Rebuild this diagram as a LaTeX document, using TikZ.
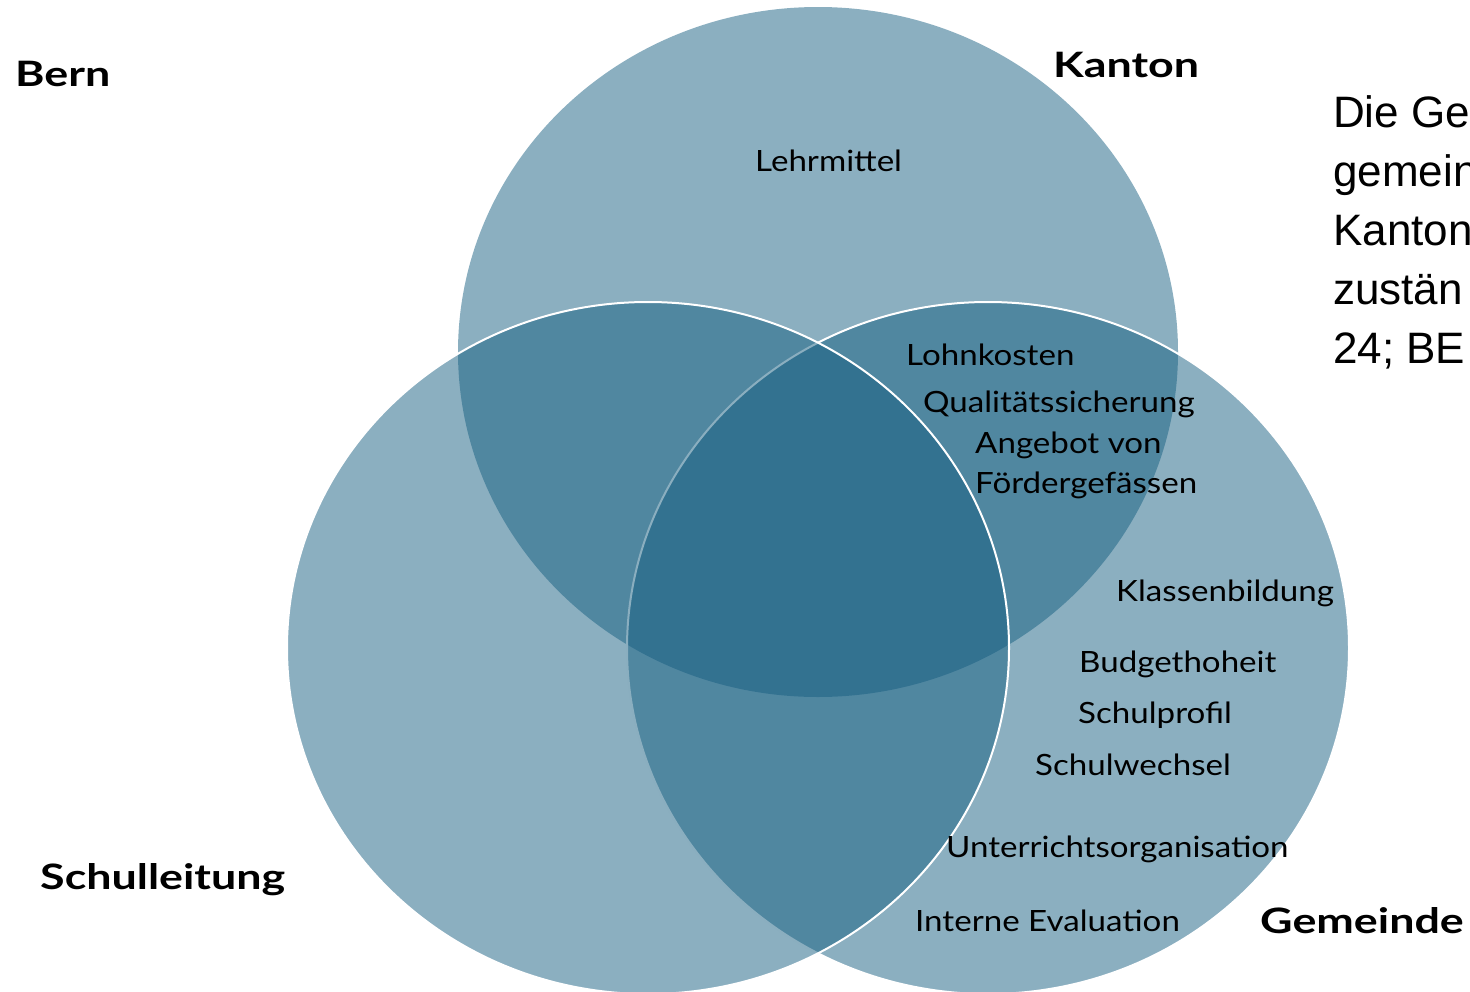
\documentclass[tikz,border=0pt]{standalone}
\usepackage{fontspec}
\setmainfont{Lato}
\newfontfamily\itemfont{Lato}[FakeStretch=1.13]
\newfontfamily\headfont{Lato}[FakeStretch=1.28]
\newfontfamily\notefont{Liberation Sans}
\definecolor{venn}{RGB}{23,95,129}

\begin{document}
\begin{tikzpicture}[x=1pt,y=-1pt,
  setarea/.style={fill=venn, fill opacity=0.5},
  setrim/.style={draw=white, line width=2pt},
  item/.style={anchor=base west, inner sep=0pt, text=black,
    font=\itemfont\fontsize{29.3}{29.3}\selectfont},
  head/.style={anchor=base west, inner sep=0pt, text=black,
    font=\headfont\bfseries\fontsize{35}{35}\selectfont},
  note/.style={anchor=base west, inner sep=0pt, text=black,
    font=\notefont\fontsize{44}{44}\selectfont}]

\useasboundingbox (0,0) rectangle (1470,991);
\clip (0,0) rectangle (1470,991);

% the three sets: Kanton below, then Gemeinde, then Schulleitung on top
\fill[setarea] (818,352) ellipse [x radius=360pt, y radius=345pt];
\path[setarea, setrim] (988,648) ellipse [x radius=361pt, y radius=346pt];
\path[setarea, setrim] (648,648) ellipse [x radius=361pt, y radius=346pt];

% set names
\node[head] (bern) at (15,86) {Bern};
\node[head] (kanton) at (1053,77) {Kanton};
\node[head] (schulleitung) at (40,889) {Schulleitung};
\node[head] (gemeinde) at (1260,933) {Gemeinde};

% responsibilities
\node[item] (lehrmittel) at (755,171) {Lehrmittel};
\node[item] (lohn) at (906,365) {Lohnkosten};
\node[item] (quali) at (923,412) {Qualitätssicherung};
\node[item] (angebot) at (975,453) {Angebot von};
\node[item] (foerder) at (975,493) {Fördergefässen};
\node[item] (klassen) at (1116,601) {Klassenbildung};
\node[item] (budget) at (1079,672) {Budgethoheit};
\node[item] (profil) at (1078,723) {Schulprofil};
\node[item] (wechsel) at (1035,775) {Schulwechsel};
\node[item] (unterricht) at (946,857) {Unterrichtsorganisation};
\node[item] (evaluation) at (915,931) {Interne Evaluation};

% side note, running off the right edge
\node[note] (n1) at (1333,127) {Die Ge};
\node[note] (n2) at (1333,186) {gemein};
\node[note] (n3) at (1333,245) {Kanton};
\node[note] (n4) at (1333,304) {zustän};
\node[note] (n5) at (1333,363) {24; BE};
\end{tikzpicture}
\end{document}
